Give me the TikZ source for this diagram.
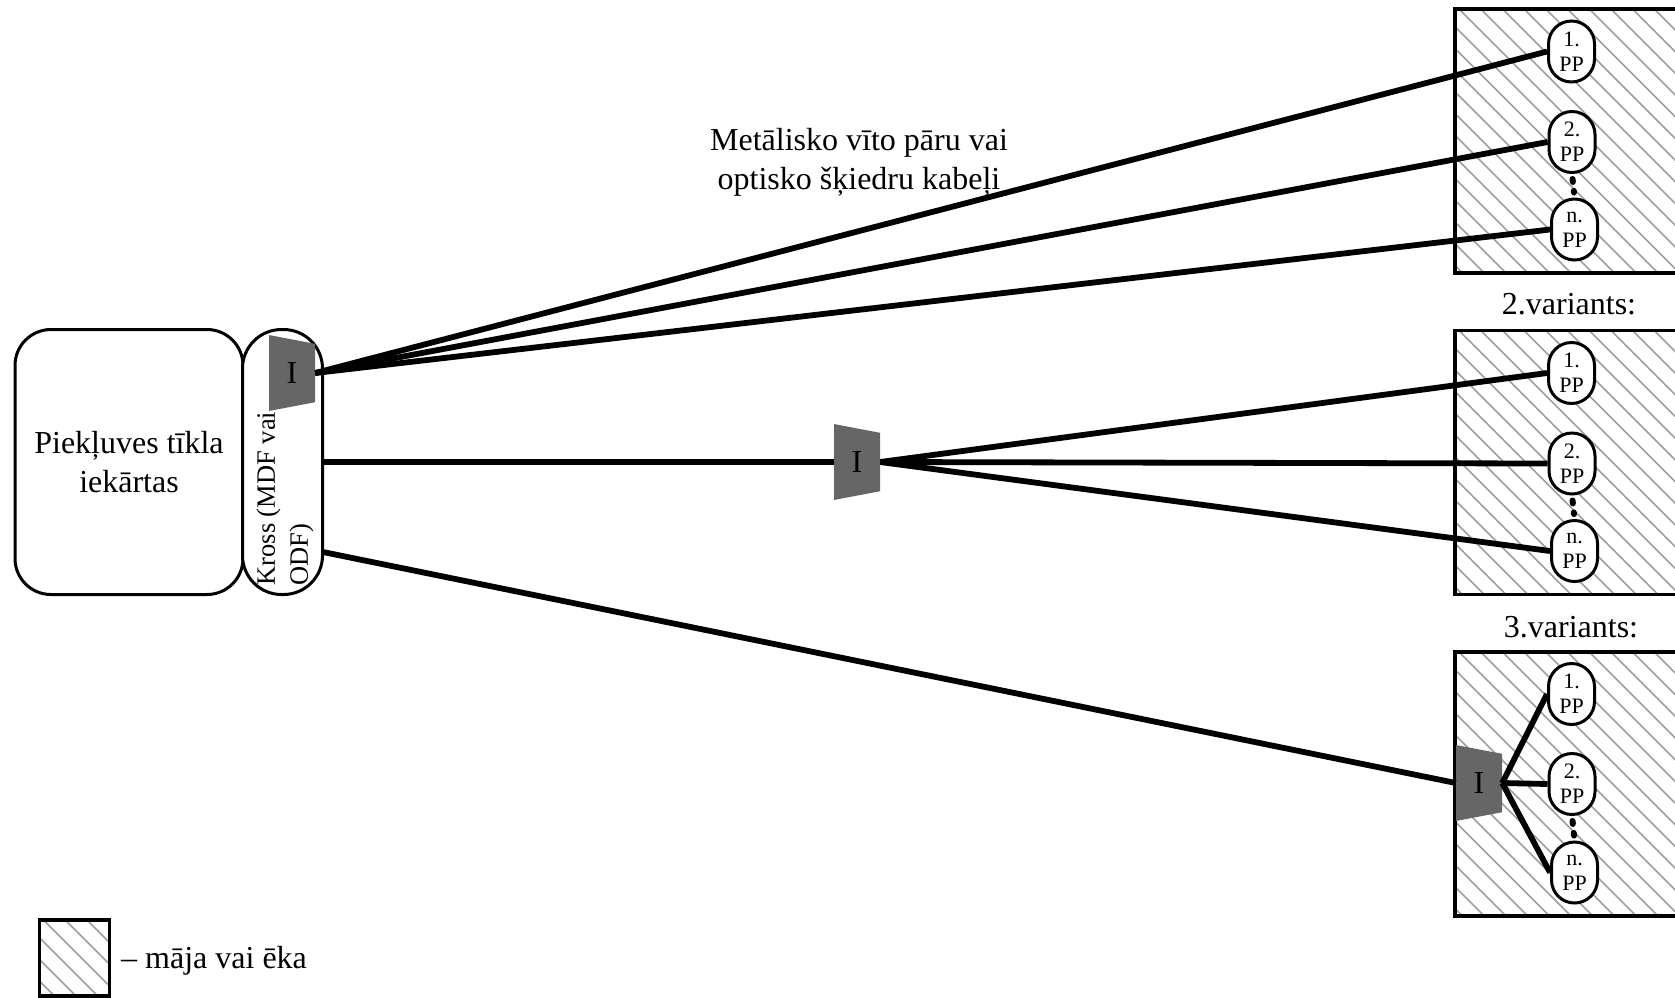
\documentclass[tikz,border=0pt]{standalone}
\usepackage{fontspec}
\setmainfont{Liberation Serif}
\usetikzlibrary{positioning,shapes.geometric}

\begin{document}
\begin{tikzpicture}[
  x=1pt, y=-1pt,
  font=\fontsize{32}{39}\selectfont,
  house/.style={draw, line width=3.5pt, anchor=north west, inner sep=0pt, minimum width=#1,
                minimum height=264pt,
                path picture={
                  \foreach \i in {-30,...,60}
                    \draw[black!38, line width=1.6pt]
                      ([xshift=\i*21.7pt+4pt]path picture bounding box.north west) -- ++(600pt,-600pt);
                }},
  house/.default=240pt,
  pp/.style={draw, fill=white, rounded corners=23pt, line width=3pt, minimum width=46pt,
             minimum height=61pt, inner sep=0pt, align=center,
             font=\fontsize{22}{25}\selectfont},
  unit/.style={trapezium, shape border rotate=270, trapezium angle=73.6, trapezium stretches=true,
               fill=black!60, minimum width=76pt, minimum height=46pt, inner sep=0pt,
               font=\fontsize{32}{32}\selectfont},
  cable/.style={line width=5.8pt},
  panel/.style={draw, fill=white, line width=3pt, align=center},
]
  \useasboundingbox (0,0) rectangle (1675,997);

  % Equipment and cross
  \node[panel, rounded corners=36pt, minimum width=228pt, minimum height=265pt] (equip) at (129,462)
    {Piekļuves tīkla\\ iekārtas};
  \node[panel, rounded corners=39pt, minimum width=80pt, minimum height=265pt] (kross) at (282.5,462) {};
  \node[rotate=90, align=left, font=\fontsize{26.5}{33}\selectfont, anchor=north west] (krosstext) at (253,589)
    {Kross (MDF vai\\ ODF)};
  \coordinate (k2) at (323,462);
  \coordinate (k3) at (323,552);

  % Houses
  \node[house] (h1) at (1453,7) {};
  \node[house] (h2) at (1453,328.5) {};
  \node[house] (h3) at (1453,650) {};

  % Subscriber points
  \node[pp] (a1) at (1571.5,51.5) {1.\\ PP};
  \node[pp] (a2) at (1572,142) {2.\\ PP};
  \node[pp] (an) at (1574.5,229.5) {n.\\ PP};
  \node[pp] (b1) at (1571.5,373) {1.\\ PP};
  \node[pp] (b2) at (1572,463.5) {2.\\ PP};
  \node[pp] (bn) at (1574.5,551) {n.\\ PP};
  \node[pp] (c1) at (1571.5,694) {1.\\ PP};
  \node[pp] (c2) at (1572,784) {2.\\ PP};
  \node[pp] (cn) at (1574.5,872.5) {n.\\ PP};

  % Splitters
  \node[unit] (u1) at (292,373) {I};
  \node[unit] (u2) at (857,462) {I};
  \node[unit] (u3) at (1479,783) {I};

  % Cables
  \foreach \to in {a1,a2,an} \draw[cable] (u1.east) -- (\to.west);
  \draw[cable] (k2) -- (u2.west);
  \foreach \to in {b1,b2,bn} \draw[cable] (u2.east) -- (\to.west);
  \draw[cable] (k3) -- (u3.west);
  \foreach \to in {c1,c2,cn} \draw[cable] (u3.east) -- (\to.west);

  % Dots
  \foreach \top/\bot in {a2/an,b2/bn,c2/cn}
    \draw[line width=6pt, line cap=round, shorten >=5pt, shorten <=5pt, dash pattern=on 3pt off 9pt] (\top.south) -- (\bot.north);

  % Labels
  \node[align=center] (cables) at (859,162.5) {Metālisko vīto pāru vai\\ optisko šķiedru kabeļi};
  \node (var2) at (1569,304) {2.variants:};
  \node (var3) at (1571,627) {3.variants:};

  % Legend
  \node[house=70pt, minimum height=76pt] (legend) at (37.5,918) {};
  \node[right=10pt of legend, inner sep=0pt, yshift=-3pt] (legendtext) {– māja vai ēka};
\end{tikzpicture}
\end{document}
